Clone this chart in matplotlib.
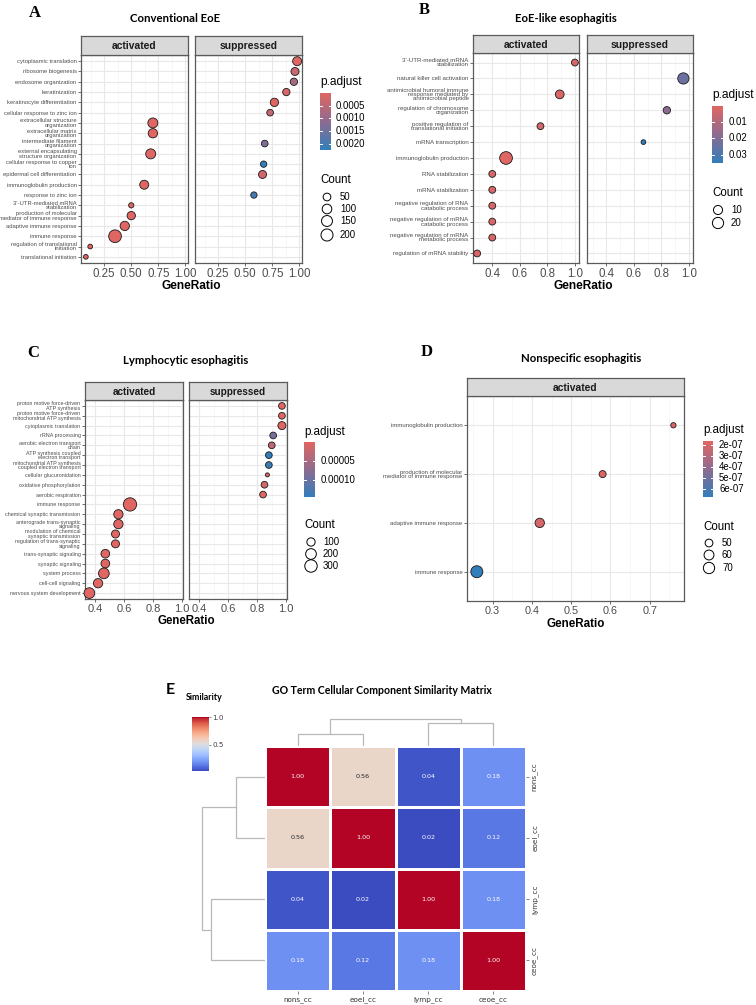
import numpy as np
import matplotlib
matplotlib.use("Agg")
import matplotlib.pyplot as plt
from matplotlib.colors import LinearSegmentedColormap, Normalize

# ---------------- data ----------------
A_terms = ["cytoplasmic translation", "ribosome biogenesis", "endosome organization", "keratinization",
           "keratinocyte differentiation", "cellular response to zinc ion", "extracellular structure\norganization",
           "extracellular matrix\norganization", "intermediate filament\norganization",
           "external encapsulating\nstructure organization", "cellular response to copper\nion",
           "epidermal cell differentiation", "immunoglobulin production", "response to zinc ion",
           "3'-UTR-mediated mRNA\nstabilization", "production of molecular\nmediator of immune response",
           "adaptive immune response", "immune response", "regulation of translational\ninitiation",
           "translational initiation"]
A_group = ["suppressed"] * 6 + ["activated", "activated", "suppressed", "activated", "suppressed", "suppressed",
                                "activated", "suppressed"] + ["activated"] * 6
A_ratio = [0.98, 0.96, 0.95, 0.88, 0.77, 0.73, 0.70, 0.70, 0.68, 0.68, 0.67, 0.66, 0.62, 0.58, 0.50, 0.50,
           0.44, 0.35, 0.12, 0.08]
A_count = [82, 57, 43, 43, 64, 33, 114, 91, 33, 114, 29, 57, 82, 29, 21, 64, 91, 235, 20, 20]
A_padj = [0.00002, 0.0003, 0.0008, 0.0001, 0.00005, 0.0004, 0.00001, 0.00001, 0.0013, 0.00001, 0.00224,
          0.0002, 0.00001, 0.0020, 0.00002, 0.00001, 0.00001, 0.000005, 0.00003, 0.00003]
A_size_breaks = [50, 100, 150, 200]
A_cbar_ticks = [0.0005, 0.0010, 0.0015, 0.0020]
A_cbar_labels = ["0.0005", "0.0010", "0.0015", "0.0020"]

B_terms = ["3'-UTR-mediated mRNA\nstabilization", "natural killer cell activation",
           "antimicrobial humoral immune\nresponse mediated by\nantimicrobial peptide",
           "regulation of chromosome\norganization", "positive regulation of\ntranslational initiation",
           "mRNA transcription", "immunoglobulin production", "RNA stabilization", "mRNA stabilization",
           "negative regulation of RNA\ncatabolic process", "negative regulation of mRNA\ncatabolic process",
           "negative regulation of mRNA\nmetabolic process", "regulation of mRNA stability"]
B_group = ["activated", "suppressed", "activated", "suppressed", "activated", "suppressed"] + ["activated"] * 7
B_ratio = [1.00, 0.96, 0.89, 0.84, 0.75, 0.67, 0.50, 0.40, 0.40, 0.40, 0.40, 0.40, 0.29]
B_count = [4, 20, 9, 5, 4, 2, 29, 4, 4, 4, 4, 4, 4]
B_padj = [0.002, 0.024, 0.002, 0.018, 0.003, 0.035, 0.0004, 0.002, 0.002, 0.002, 0.002, 0.002, 0.002]
B_size_breaks = [10, 20]
B_cbar_ticks = [0.01, 0.02, 0.03]
B_cbar_labels = ["0.01", "0.02", "0.03"]

C_terms = ["proton motive force-driven\nATP synthesis", "proton motive force-driven\nmitochondrial ATP synthesis",
           "cytoplasmic translation", "rRNA processing", "aerobic electron transport\nchain",
           "ATP synthesis coupled\nelectron transport", "mitochondrial ATP synthesis\ncoupled electron transport",
           "cellular glucuronidation", "oxidative phosphorylation", "aerobic respiration", "immune response",
           "chemical synaptic transmission", "anterograde trans-synaptic\nsignaling",
           "modulation of chemical\nsynaptic transmission", "regulation of trans-synaptic\nsignaling",
           "trans-synaptic signaling", "synaptic signaling", "system process", "cell-cell signaling",
           "nervous system development"]
C_group = ["suppressed"] * 10 + ["activated"] * 10
C_ratio = [0.97, 0.97, 0.97, 0.91, 0.90, 0.88, 0.88, 0.87, 0.85, 0.84, 0.64, 0.56, 0.56, 0.54, 0.54, 0.47,
           0.47, 0.46, 0.42, 0.36]
C_count = [58, 58, 91, 58, 58, 58, 58, 30, 58, 58, 360, 137, 137, 91, 91, 114, 114, 201, 137, 201]
C_padj = [1e-6, 1e-6, 1e-6, 9e-5, 3e-5, 1.45e-4, 1.4e-4, 2e-6, 1e-5, 2e-6, 1e-7, 1e-7, 1e-7, 1e-7, 1e-7,
          1e-7, 1e-7, 1e-7, 1e-7, 1e-7]
C_size_breaks = [100, 200, 300]
C_cbar_ticks = [0.00005, 0.00010]
C_cbar_labels = ["0.00005", "0.00010"]

D_terms = ["immunoglobulin production", "production of molecular\nmediator of immune response",
           "adaptive immune response", "immune response"]
D_group = ["activated"] * 4
D_ratio = [0.76, 0.58, 0.42, 0.26]
D_count = [46, 48, 57, 76]
D_padj = [1.6e-7, 1.7e-7, 1.9e-7, 6.7e-7]
D_size_breaks = [50, 60, 70]
D_cbar_ticks = [2e-7, 3e-7, 4e-7, 5e-7, 6e-7]
D_cbar_labels = ["2e-07", "3e-07", "4e-07", "5e-07", "6e-07"]

E_labels = ["nons_cc", "eoel_cc", "lymp_cc", "ceoe_cc"]
E_sim = [[1.00, 0.56, 0.04, 0.18],
         [0.56, 1.00, 0.02, 0.12],
         [0.04, 0.02, 1.00, 0.18],
         [0.18, 0.12, 0.18, 1.00]]

# ---------------- figure helpers ----------------
W, H = 756, 1005
fig = plt.figure(figsize=(W / 100, H / 100), dpi=100)
SANS = "Liberation Sans"
TITLEF = "Lato"
pcmap = LinearSegmentedColormap.from_list("padj", ["#e06663", "#8e6b90", "#327eba"])


def ax_px(l, t, r, b):
    return fig.add_axes([l / W, 1 - b / H, (r - l) / W, (b - t) / H])


def ftext(x, y, s, **kw):
    return fig.text(x / W, 1 - y / H, s, **kw)


ov = fig.add_axes([0, 0, 1, 1])
ov.set_xlim(0, W)
ov.set_ylim(H, 0)
ov.axis("off")
ov.set_zorder(10)


def make_size_fn(count, dlim):
    c = np.asarray(count, float)
    cmin, cmax = c.min(), c.max()

    def f(v):
        v = np.clip(np.asarray(v, float), cmin, cmax)
        return dlim[0] + (dlim[1] - dlim[0]) * np.sqrt((v - cmin) / (cmax - cmin))
    return f


def dotplot(facets, strip_top, ptop, pbot, terms, group, ratio, count, padj, xlim, xticks, xtl,
            dlim, ylab_fs, xt_fs, strip_fs, xlabel_y, xlabel_fs):
    n = len(terms)
    ys = np.arange(n)[::-1]
    norm = Normalize(min(padj), max(padj))
    sfn = make_size_fn(count, dlim)
    minor = [(xticks[i] + xticks[i + 1]) / 2 for i in range(len(xticks) - 1)]
    step = xticks[1] - xticks[0]
    minor = [xticks[0] - step / 2] + minor + [xticks[-1] + step / 2]
    for k, (l, r, fname) in enumerate(facets):
        ax = ax_px(l, ptop, r, pbot)
        ax.set_xlim(xlim)
        ax.set_ylim(-0.6, n - 0.4)
        for xm in minor:
            ax.axvline(xm, color="#F3F3F3", lw=0.45, zorder=0)
        for xt in xticks:
            ax.axvline(xt, color="#E8E8E8", lw=0.8, zorder=0)
        for y in ys:
            ax.axhline(y, color="#E8E8E8", lw=0.8, zorder=0)
        sel = [i for i in range(n) if group[i] == fname]
        if sel:
            xs = [ratio[i] for i in sel]
            yv = [ys[i] for i in sel]
            d = sfn([count[i] for i in sel])
            ax.scatter(xs, yv, s=(d * 0.72) ** 2, c=[padj[i] for i in sel], cmap=pcmap, norm=norm,
                       edgecolors="#1a1a1a", linewidths=0.6, zorder=3, clip_on=False)
        ax.set_xticks(xticks)
        ax.set_xticklabels(xtl, fontsize=xt_fs, color="#4D4D4D", family=SANS)
        ax.set_yticks(ys)
        if k == 0:
            ax.set_yticklabels(terms, fontsize=ylab_fs, color="#4D4D4D", family=SANS, linespacing=0.85)
            ax.tick_params(axis="y", length=2, width=0.5, color="#333333", pad=1.2)
        else:
            ax.set_yticklabels([])
            ax.tick_params(axis="y", length=0)
        ax.tick_params(axis="x", length=2, width=0.5, color="#333333", pad=1.5)
        for sp in ax.spines.values():
            sp.set_color("#5a5a5a")
            sp.set_linewidth(0.9)
        sax = ax_px(l, strip_top, r, ptop)
        sax.set_facecolor("#D9D9D9")
        sax.set_xticks([])
        sax.set_yticks([])
        for sp in sax.spines.values():
            sp.set_color("#5a5a5a")
            sp.set_linewidth(0.9)
        sax.text(0.5, 0.45, fname, ha="center", va="center", fontsize=strip_fs, fontweight="bold",
                 color="#1A1A1A", family=SANS)
    cx = (facets[0][0] + facets[-1][1]) / 2
    ftext(cx, xlabel_y, "GeneRatio", ha="center", va="center", fontsize=xlabel_fs, fontweight="bold",
          family=SANS)
    return norm, sfn


def pbar(l, t, r, b, norm, ticks, labels, title_y, label_x, fs_title, fs_lab):
    cax = ax_px(l, t, r, b)
    edges = np.linspace(norm.vmin, norm.vmax, 201)
    mids = (edges[:-1] + edges[1:]) / 2
    cax.pcolormesh([0, 1], edges, mids[:, None], cmap=pcmap, norm=norm, shading="flat")
    cax.set_xlim(0, 1)
    cax.set_ylim(norm.vmax, norm.vmin)
    cax.axis("off")
    for v, lab in zip(ticks, labels):
        cax.plot([0, 0.2], [v, v], color="white", lw=0.7)
        cax.plot([0.8, 1], [v, v], color="white", lw=0.7)
        ypx = t + (v - norm.vmin) / (norm.vmax - norm.vmin) * (b - t)
        ftext(label_x, ypx, lab, fontsize=fs_lab, va="center", ha="left", family=SANS)
    ftext(l, title_y, "p.adjust", fontsize=fs_title, va="center", ha="left", family=SANS)


def size_legend(x0, title_y, xc, xl, rows, breaks, sfn, fs_title, fs_lab):
    ftext(x0, title_y, "Count", fontsize=fs_title, va="center", ha="left", family=SANS)
    d = sfn(breaks)
    ov.scatter([xc] * len(breaks), rows, s=(d * 0.72) ** 2, facecolors="none", edgecolors="black",
               linewidths=0.7)
    for yy, bk in zip(rows, breaks):
        ftext(xl, yy, str(bk), fontsize=fs_lab, va="center", ha="left", family=SANS)


def panel_letter(x, y, s):
    ftext(x, y, s, ha="center", va="center", fontsize=12, fontweight="bold", family="Liberation Serif")


def title(x, y, s, fs=8.2):
    ftext(x, y, s, ha="center", va="center", fontsize=fs, fontweight="bold", family=TITLEF)


# ---------------- Panel A ----------------
panel_letter(35, 13, "A")
title(175, 18, "Conventional EoE")
normA, sA = dotplot([(81, 188, "activated"), (195, 302, "suppressed")], 36, 55, 263, A_terms, A_group,
                    A_ratio, A_count, A_padj, (0.035, 1.025), [0.25, 0.50, 0.75, 1.00],
                    ["0.25", "0.50", "0.75", "1.00"], (4.7, 12.7), 4.2, 8.3, 7.4, 286, 8.6)
pbar(320, 93, 331, 150, normA, A_cbar_ticks, A_cbar_labels, 82, 336, 8.6, 6.9)
size_legend(320, 180, 327, 340, [197, 209, 221, 235], A_size_breaks, sA, 8.3, 6.9)

# ---------------- Panel B ----------------
panel_letter(424, 10, "B")
title(566, 18, "EoE-like esophagitis")
normB, sB = dotplot([(473, 579, "activated"), (587, 693, "suppressed")], 35, 53, 263, B_terms, B_group,
                    B_ratio, B_count, B_padj, (0.26, 1.03), [0.4, 0.6, 0.8, 1.0],
                    ["0.4", "0.6", "0.8", "1.0"], (4.7, 12.7), 4.4, 8.3, 7.4, 286, 8.6)
pbar(712, 106, 723, 163, normB, B_cbar_ticks, B_cbar_labels, 95, 729, 8.6, 6.9)
size_legend(712, 193, 718, 731, [210, 223], B_size_breaks, sB, 8.3, 6.9)

# ---------------- Panel C ----------------
panel_letter(33, 353, "C")
title(186, 360, "Lymphocytic esophagitis")
normC, sC = dotplot([(85, 183, "activated"), (189, 287, "suppressed")], 382, 400, 599, C_terms, C_group,
                    C_ratio, C_count, C_padj, (0.33, 1.005), [0.4, 0.6, 0.8, 1.0],
                    ["0.4", "0.6", "0.8", "1.0"], (4.0, 13.3), 3.9, 8.0, 7.2, 621, 8.3)
pbar(304, 442, 315, 497, normC, C_cbar_ticks, C_cbar_labels, 432, 321, 8.4, 6.9)
size_legend(304, 525, 311, 323, [542, 554, 566], C_size_breaks, sC, 8.3, 6.9)

# ---------------- Panel D ----------------
panel_letter(427, 352, "D")
title(581, 359, "Nonspecific esophagitis")
normD, sD = dotplot([(467, 684, "activated")], 378, 396, 601, D_terms, D_group,
                    D_ratio, D_count, D_padj, (0.235, 0.787), [0.3, 0.4, 0.5, 0.6, 0.7],
                    ["0.3", "0.4", "0.5", "0.6", "0.7"], (5.3, 12.0), 4.3, 7.8, 7.4, 624, 8.4)
pbar(703, 441, 713, 497, normD, D_cbar_ticks, D_cbar_labels, 430, 719, 8.4, 6.9)
size_legend(703, 527, 709, 722, [543, 555, 568], D_size_breaks, sD, 8.3, 6.9)

# ---------------- Panel E ----------------
M = np.array(E_sim)
nE = len(E_labels)
ftext(170, 690, "E", ha="center", va="center", fontsize=11.5, family=TITLEF, fontweight="bold")
ftext(204, 698, "Similarity", ha="center", va="center", fontsize=6.3, family=TITLEF, fontweight="bold")
title(382, 691, "GO Term Cellular Component Similarity Matrix", fs=7.6)

cmapE = plt.get_cmap("coolwarm")
normE = Normalize(M.min(), M.max())

hax = ax_px(265, 746, 526, 991)
hax.pcolormesh(np.arange(nE + 1), np.arange(nE + 1), M, cmap=cmapE, norm=normE, edgecolors="white",
               linewidth=0.9)
hax.set_xlim(0, nE)
hax.set_ylim(nE, 0)


def rel_lum(rgb):
    out = []
    for v in rgb[:3]:
        out.append(v / 12.92 if v <= 0.03928 else ((v + 0.055) / 1.055) ** 2.4)
    return 0.2126 * out[0] + 0.7152 * out[1] + 0.0722 * out[2]


for i in range(nE):
    for j in range(nE):
        col = cmapE(normE(M[i, j]))
        tc = "#262626" if rel_lum(col) > 0.408 else "white"
        hax.text(j + 0.5, i + 0.5, f"{M[i, j]:.2f}", ha="center", va="center", fontsize=4.6, color=tc,
                 family="DejaVu Sans")
hax.set_xticks(np.arange(nE) + 0.5)
hax.set_xticklabels(E_labels, fontsize=5.2, family="DejaVu Sans", color="#333333")
hax.yaxis.tick_right()
hax.set_yticks(np.arange(nE) + 0.5)
hax.set_yticklabels(E_labels, fontsize=5.2, family="DejaVu Sans", rotation=90, va="center",
                    color="#333333")
hax.tick_params(length=2, width=0.5, color="#555555", pad=2)
for sp in hax.spines.values():
    sp.set_visible(False)


def upgma_links(X):
    n = len(X)
    D = np.sqrt(((X[:, None, :] - X[None, :, :]) ** 2).sum(-1))
    clusters = {i: [i] for i in range(n)}
    pos = {i: i + 0.5 for i in range(n)}
    hgt = {i: 0.0 for i in range(n)}
    links = []
    nid = n
    while len(clusters) > 1:
        keys = list(clusters)
        best = None
        for a in range(len(keys)):
            for b in range(a + 1, len(keys)):
                ka, kb = keys[a], keys[b]
                dd = np.mean([D[p, q] for p in clusters[ka] for q in clusters[kb]])
                if best is None or dd < best[0]:
                    best = (dd, ka, kb)
        dd, ka, kb = best
        links.append((pos[ka], hgt[ka], pos[kb], hgt[kb], dd))
        clusters[nid] = clusters.pop(ka) + clusters.pop(kb)
        pos[nid] = (pos[ka] + pos[kb]) / 2
        hgt[nid] = dd
        nid += 1
    return links


links = upgma_links(M)
hmax = max(l[4] for l in links)
dcol = "#b8b8b8"

rax = ax_px(199, 746, 265, 991)
for pa, ha, pb, hb, dd in links:
    rax.plot([ha, dd, dd, hb], [pa, pa, pb, pb], color=dcol, lw=0.9, solid_joinstyle="miter")
rax.set_xlim(hmax * 66 / 63, 0)
rax.set_ylim(nE, 0)
rax.axis("off")

tax = ax_px(265, 717, 526, 746)
for pa, ha, pb, hb, dd in links:
    tax.plot([pa, pa, pb, pb], [ha, dd, dd, hb], color=dcol, lw=0.9, solid_joinstyle="miter")
tax.set_xlim(0, nE)
tax.set_ylim(0, hmax * 29 / 26.7)
tax.axis("off")

# colorbar E
cbE = ax_px(192, 717, 209, 771)
edges = np.linspace(normE.vmin, normE.vmax, 201)
mids = (edges[:-1] + edges[1:]) / 2
cbE.pcolormesh([0, 1], edges, mids[:, None], cmap=cmapE, norm=normE, shading="flat")
cbE.set_xlim(0, 1)
cbE.set_ylim(normE.vmin, normE.vmax)
cbE.set_xticks([])
cbE.yaxis.tick_right()
cbE.set_yticks([0.5, 1.0])
cbE.set_yticklabels(["0.5", "1.0"], fontsize=5.2, family="DejaVu Sans", color="#444444")
cbE.tick_params(axis="y", length=1.5, width=0.5, color="#555555", pad=1)
for sp in cbE.spines.values():
    sp.set_visible(False)

fig.savefig("out.png", dpi=100)
